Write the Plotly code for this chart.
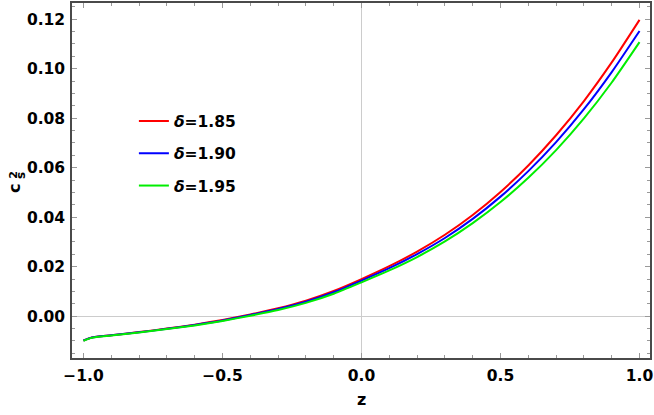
import plotly.graph_objects as go

z = [-1.0, -0.97, -0.9, -0.8, -0.7, -0.6, -0.5, -0.4, -0.3, -0.2, -0.1,
     0.0, 0.1, 0.2, 0.3, 0.4, 0.5, 0.6, 0.7, 0.8, 0.9, 1.0]

cs2_185 = [-0.0098, -0.0086, -0.0077, -0.0064, -0.0050, -0.0034, -0.0015, 0.0007,
           0.0032, 0.0063, 0.0102, 0.0150, 0.0202, 0.0261, 0.0329, 0.0409,
           0.0502, 0.0609, 0.0731, 0.0869, 0.1025, 0.1197]
cs2_190 = [-0.0098, -0.0086, -0.0077, -0.0065, -0.0051, -0.0035, -0.0017, 0.0005,
           0.0029, 0.0059, 0.0097, 0.0144, 0.0194, 0.0251, 0.0316, 0.0393,
           0.0483, 0.0586, 0.0703, 0.0836, 0.0986, 0.1152]
cs2_195 = [-0.0099, -0.0087, -0.0078, -0.0066, -0.0052, -0.0037, -0.0019, 0.0002,
           0.0025, 0.0054, 0.0091, 0.0137, 0.0185, 0.0239, 0.0302, 0.0376,
           0.0461, 0.0559, 0.0671, 0.0799, 0.0944, 0.1107]

series_names = ["<i>δ</i>=1.85", "<i>δ</i>=1.90", "<i>δ</i>=1.95"]
series_values = [cs2_185, cs2_190, cs2_195]
colors = ["#ff0000", "#0000ff", "#00ee00"]

x_ticks = [-1.0, -0.5, 0.0, 0.5, 1.0]
x_ticklabels = ["−1.0", "−0.5", "0.0", "0.5", "1.0"]
y_ticks = [0.00, 0.02, 0.04, 0.06, 0.08, 0.10, 0.12]
y_ticklabels = ["0.00", "0.02", "0.04", "0.06", "0.08", "0.10", "0.12"]

FONT = "DejaVu Sans, sans-serif"

# plot area in pixels
L, R, T, B = 72, 651, 1, 358
W, H = 654, 415

def px(xp):
    return (xp - L) / (R - L)

def py(yp):
    return (B - yp) / (B - T)

fig = go.Figure()
legend_ids = ["legend", "legend2", "legend3"]
legend_y = [120, 152.5, 185]
for name, vals, col, lid in zip(series_names, series_values, colors, legend_ids):
    fig.add_trace(go.Scatter(
        x=z, y=vals, mode="lines", name=name,
        line=dict(color=col, width=2, shape="spline", smoothing=0.6),
        legend=lid,
    ))

legend_common = dict(
    font=dict(family=FONT, size=15.5, color="black", weight="bold"),
    bgcolor="rgba(0,0,0,0)", borderwidth=0,
    xanchor="left", yanchor="middle",
)
layout_legends = {}
for lid, ly in zip(legend_ids, legend_y):
    layout_legends[lid] = dict(x=px(134), y=py(ly), **legend_common)

axis_common = dict(
    showline=True, linecolor="#4a4a4a", linewidth=1.5, mirror="ticks",
    ticks="inside", ticklen=5, tickwidth=1, tickcolor="#999999",
    showgrid=False, zeroline=True, zerolinecolor="#cccccc", zerolinewidth=1,
    tickfont=dict(family=FONT, size=15.5, color="black", weight="bold"),
    ticklabeloverflow="allow",
)

fig.update_layout(
    width=W, height=H,
    margin=dict(l=L, r=W - R, t=T, b=H - B),
    paper_bgcolor="white", plot_bgcolor="white",
    showlegend=True,
    **layout_legends,
    xaxis=dict(range=[-1.0413, 1.0377], tickvals=x_ticks, ticktext=x_ticklabels,
               minor=dict(dtick=0.1, tick0=0, ticks="inside", ticklen=3, tickcolor="#999999"),
               ticklabelstandoff=3, **axis_common),
    yaxis=dict(range=[-0.01687, 0.1265], tickvals=y_ticks, ticktext=y_ticklabels,
               minor=dict(dtick=0.005, tick0=0, ticks="inside", ticklen=3, tickcolor="#999999"),
               ticklabelstandoff=2, **axis_common),
)

lab_font = dict(family=FONT, color="black", weight="bold")
fig.add_annotation(text="c", x=px(15), y=py(188), xref="paper", yref="paper",
                   showarrow=False, textangle=-90, xanchor="center", yanchor="middle",
                   font=dict(size=16, **lab_font))
fig.add_annotation(text="2", x=px(12.5), y=py(174), xref="paper", yref="paper",
                   showarrow=False, textangle=-90, xanchor="center", yanchor="middle",
                   font=dict(size=11, **lab_font))
fig.add_annotation(text="s", x=px(21), y=py(175), xref="paper", yref="paper",
                   showarrow=False, textangle=-90, xanchor="center", yanchor="middle",
                   font=dict(size=12, **lab_font))
fig.add_annotation(text="z", x=px(362), y=py(400), xref="paper", yref="paper",
                   showarrow=False, xanchor="center", yanchor="middle",
                   font=dict(size=16, **lab_font))

fig.write_html("out.html", config={"displayModeBar": False},
               post_script="document.body.style.margin='0';document.body.style.overflow='hidden';")
